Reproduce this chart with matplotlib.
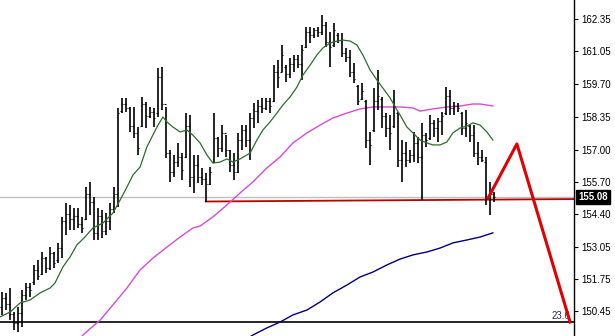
import matplotlib
matplotlib.use("Agg")
import matplotlib.pyplot as plt
import numpy as np

plt.rcParams['font.family'] = ['Liberation Sans', 'DejaVu Sans']

# OHLC bars (daily)
highs = [151.21, 151.17, 151.37, 150.39, 150.59, 151.29, 151.57, 151.57, 152.31, 152.51,
         152.84, 152.63, 153.04, 152.84, 153.21, 154.27, 154.84, 154.76, 154.64, 154.64,
         154.27, 155.49, 155.70, 155.08, 154.64, 154.55, 154.43, 154.84, 155.49, 158.72,
         159.13, 159.13, 158.76, 158.76, 157.94, 159.17, 158.96, 158.76, 158.72, 160.35,
         160.39, 158.76, 157.00, 156.80, 157.29, 156.88, 158.51, 158.43, 156.80, 156.80,
         156.27, 156.06, 156.31, 158.51, 157.53, 158.02, 157.61, 157.00, 156.88, 157.70,
         158.02, 158.02, 158.51, 158.92, 159.04, 159.13, 159.13, 159.13, 160.47, 160.68,
         161.29, 160.47, 160.76, 160.88, 160.88, 161.29, 162.02, 162.02, 161.98, 162.02,
         162.51, 162.23, 161.82, 162.19, 161.78, 161.78, 161.17, 161.09, 160.55, 159.66,
         159.74, 159.04, 157.74, 159.53, 160.27, 159.17, 158.51, 158.43, 159.45, 158.55,
         157.41, 157.33, 157.00, 157.74, 157.53, 158.11, 157.70, 158.43, 158.23, 158.31,
         158.55, 159.57, 159.45, 158.96, 158.92, 158.55, 158.64, 158.02, 158.02, 157.33,
         157.00, 156.72, 155.70, 155.28]
lows = [150.27, 150.47, 150.06, 149.66, 149.57, 149.78, 150.88, 151.00, 151.49, 151.70,
        151.90, 151.98, 152.11, 152.19, 152.39, 152.59, 153.53, 153.74, 153.74, 153.82,
        153.62, 154.15, 154.35, 153.33, 153.33, 153.41, 153.53, 153.74, 154.43, 154.68,
        158.51, 158.55, 157.74, 157.49, 156.80, 157.94, 157.90, 158.31, 157.94, 158.35,
        158.64, 156.68, 155.70, 155.90, 156.31, 155.78, 156.68, 155.49, 155.25, 155.66,
        155.57, 154.90, 155.57, 156.47, 156.72, 156.92, 156.72, 156.10, 155.78, 156.06,
        157.00, 157.13, 156.60, 157.90, 158.11, 158.51, 158.64, 158.51, 158.96, 159.53,
        160.19, 159.78, 159.94, 160.19, 160.35, 159.86, 161.17, 161.37, 161.57, 161.62,
        161.70, 161.21, 160.39, 161.21, 161.37, 160.80, 160.59, 159.98, 159.74, 158.84,
        159.04, 157.09, 156.39, 157.74, 158.64, 157.90, 157.53, 157.00, 157.90, 156.31,
        155.70, 156.31, 156.47, 156.51, 156.47, 154.96, 157.13, 157.41, 157.53, 157.33,
        157.61, 158.43, 158.43, 158.43, 158.55, 157.61, 157.53, 157.33, 156.72, 156.39,
        156.51, 154.76, 154.35, 154.88]
opens = [150.60, 150.95, 150.70, 150.30, 149.95, 150.35, 151.10, 151.40, 151.60, 152.10,
         151.95, 152.60, 152.20, 152.80, 152.50, 153.00, 154.10, 154.40, 154.20, 154.30,
         154.00, 154.20, 155.20, 154.90, 153.60, 154.30, 153.70, 154.10, 154.60, 155.20,
         158.60, 158.90, 158.70, 158.00, 157.70, 158.00, 158.90, 158.40, 158.55, 158.50,
         160.00, 158.90, 156.90, 156.10, 156.50, 156.70, 156.70, 158.00, 155.90, 156.40,
         155.90, 155.80, 155.60, 156.50, 157.50, 157.10, 157.70, 157.00, 156.40, 156.10,
         157.40, 157.80, 157.40, 158.30, 158.60, 158.80, 158.70, 159.00, 159.00, 160.20,
         160.20, 160.40, 160.10, 160.50, 160.70, 160.50, 161.20, 161.80, 161.70, 161.90,
         161.80, 162.10, 161.40, 161.30, 161.70, 161.50, 160.95, 160.80, 160.20, 159.60,
         159.10, 159.00, 157.40, 157.80, 159.00, 159.10, 158.40, 157.90, 158.00, 158.50,
         156.60, 156.90, 156.60, 156.80, 157.30, 156.70, 157.60, 157.50, 158.10, 157.90,
         158.20, 158.50, 159.20, 158.70, 158.80, 158.50, 157.90, 158.00, 157.60, 156.90,
         156.70, 156.50, 155.00, 155.20]
closes = [150.95, 150.70, 150.30, 149.95, 150.35, 151.10, 151.40, 151.30, 152.10, 151.85,
          152.60, 152.20, 152.80, 152.40, 153.00, 154.10, 154.40, 154.20, 154.30, 154.00,
          153.80, 155.20, 154.90, 153.60, 154.30, 153.70, 154.10, 154.60, 155.20, 158.50,
          158.90, 158.70, 158.00, 157.70, 157.10, 158.90, 158.40, 158.55, 158.30, 160.00,
          158.90, 156.90, 156.10, 156.50, 156.70, 156.20, 158.00, 155.90, 156.40, 155.90,
          155.80, 155.60, 156.10, 157.50, 157.10, 157.70, 157.00, 156.40, 156.10, 157.40,
          157.80, 157.40, 158.30, 158.60, 158.80, 158.70, 159.00, 158.80, 160.20, 160.00,
          160.90, 160.10, 160.50, 160.70, 160.50, 161.10, 161.80, 161.70, 161.90, 161.80,
          162.10, 161.40, 161.20, 161.90, 161.50, 160.95, 160.80, 160.20, 159.90, 159.00,
          159.40, 157.40, 157.20, 159.00, 159.20, 158.40, 157.90, 157.70, 158.80, 156.60,
          156.90, 156.60, 156.80, 157.30, 156.70, 157.60, 157.40, 158.10, 157.90, 158.20,
          158.40, 159.20, 158.70, 158.80, 158.70, 157.90, 158.10, 157.60, 156.90, 156.70,
          156.60, 155.00, 155.20, 155.08]

# moving averages as drawn (bar index, price)
fast_idx = [-0.4, 2.1, 4.6, 7.1, 9.6, 12.1, 13.3, 15.3, 17.1, 18.8, 20.8, 22.8, 25.3, 27.8,
            29.6, 31.3, 32.8, 34.6, 36.3, 38.8, 40.3, 41.3, 42.8, 44.6, 46.3, 47.8, 49.6,
            51.3, 52.8, 54.6, 56.3, 57.8, 59.6, 62.1, 63.8, 65.3, 67.1, 68.8, 70.3, 72.1,
            73.8, 75.3, 77.1, 78.8, 80.3, 82.1, 83.8, 85.3, 87.1, 88.8, 90.3, 92.1, 93.8,
            95.3, 97.1, 98.8, 99.6, 101.3, 102.8, 104.6, 106.3, 107.8, 109.6, 111.3, 112.8,
            114.6, 116.3, 117.8, 119.6, 121.3, 122.8]
fast_ma = [150.19, 150.39, 150.76, 150.88, 151.17, 151.37, 151.57, 152.23, 152.64, 153.13,
           153.45, 153.82, 154.02, 154.43, 154.96, 155.49, 155.98, 156.31, 157.13, 157.94,
           158.35, 158.15, 157.94, 157.74, 157.82, 157.61, 157.29, 156.80, 156.47, 156.51,
           156.64, 156.51, 156.64, 156.88, 157.41, 157.82, 158.15, 158.51, 158.84, 159.17,
           159.57, 160.06, 160.47, 160.88, 161.17, 161.37, 161.45, 161.49, 161.45, 161.29,
           160.88, 160.27, 159.86, 159.53, 159.13, 158.64, 158.43, 157.94, 157.70, 157.41,
           157.29, 157.21, 157.21, 157.33, 157.70, 157.90, 157.98, 158.11, 158.02, 157.74,
           157.41]
mid_idx = [18.3, 20.3, 24.6, 27.8, 31.3, 34.6, 37.8, 41.3, 44.6, 47.8, 49.6, 52.8, 56.3,
           59.6, 62.8, 66.3, 69.6, 72.8, 76.3, 79.6, 82.8, 86.3, 89.6, 92.8, 96.3, 99.6,
           102.8, 104.6, 106.3, 107.8, 111.3, 114.6, 117.8, 119.6, 122.8]
mid_ma = [149.04, 149.45, 150.06, 150.68, 151.37, 152.11, 152.59, 153.04, 153.45, 153.82,
          153.90, 154.27, 154.76, 155.25, 155.70, 156.27, 156.72, 157.29, 157.70, 158.02,
          158.31, 158.51, 158.68, 158.76, 158.76, 158.76, 158.72, 158.59, 158.64, 158.68,
          158.76, 158.80, 158.88, 158.88, 158.80]
slow_idx = [60.8, 62.8, 66.3, 69.6, 72.8, 76.3, 79.6, 82.8, 86.3, 89.6, 92.8, 96.3, 99.6,
            102.8, 106.3, 109.6, 112.8, 116.3, 119.6, 122.8]
slow_ma = [149.25, 149.45, 149.74, 149.98, 150.27, 150.47, 150.80, 151.17, 151.49, 151.82,
           152.02, 152.31, 152.55, 152.72, 152.84, 153.00, 153.21, 153.33, 153.45, 153.62]

last_price = 155.08
support_x = [51, 143.1]
support_y = [154.90, 155.00]
proj_x = [121.6, 128.8, 142.1]
proj_y = [155.04, 157.25, 149.98]
fib_level = 149.98

yticks = [162.35, 161.05, 159.70, 158.35, 157.00, 155.70, 154.40, 153.05, 151.75, 150.45]

fig = plt.figure(figsize=(6.15, 3.36), dpi=100)
ax = fig.add_axes([0, 0, 574 / 615, 1])

x = np.arange(len(highs))
ax.axhline(last_price, color='#c0c0c0', lw=1, zorder=1)
ax.axhline(fib_level, color='#000000', lw=1.2, zorder=1)
ax.plot(support_x, support_y, color='#c00000', lw=1.3, zorder=2)

ax.plot(mid_idx, mid_ma, color='#d84ad8', lw=1, zorder=3)
ax.plot(slow_idx, slow_ma, color='#000080', lw=1, zorder=3)

ax.vlines(x, lows, highs, color='black', lw=1.2, zorder=4)
ax.hlines(opens, x - 0.35, x, color='black', lw=0.8, zorder=4)
ax.hlines(closes, x, x + 0.35, color='black', lw=0.8, zorder=4)

ax.plot(fast_idx, fast_ma, color='#2a6e2a', lw=0.9, zorder=5)
ax.plot(proj_x, proj_y, color='#e00000', lw=2.2, zorder=6)

ax.text(142.3, fib_level + 0.05, '23.6', color='#2a2a5a', fontsize=7,
        ha='right', va='bottom', zorder=5)

ax.set_xlim(-0.43, 143.08)
ax.set_ylim(149.41, 163.126)
ax.set_xticks([])
ax.set_yticks(yticks)
ax.set_yticklabels([f'{v:.2f}' for v in yticks])
ax.yaxis.tick_right()
ax.tick_params(axis='y', direction='out', length=3, width=0.8, pad=2,
               labelsize=7, colors='black')
for s in ['top', 'left', 'bottom']:
    ax.spines[s].set_visible(False)
ax.spines['right'].set_linewidth(1)

ax.annotate(f'{last_price:.2f}', xy=(1, last_price), xycoords=('axes fraction', 'data'),
            xytext=(3, 0), textcoords='offset points', ha='left', va='center',
            fontsize=7, fontweight='bold', color='white', zorder=10,
            bbox=dict(boxstyle='square,pad=0.2', fc='black', ec='black'),
            annotation_clip=False)

fig.savefig('out.png', dpi=100)
